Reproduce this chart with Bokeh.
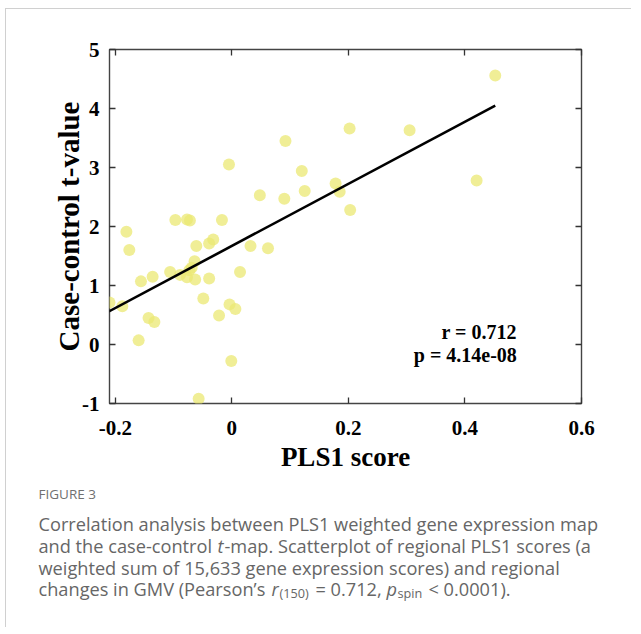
from bokeh.plotting import figure
from bokeh.models import (ColumnDataSource, LinearAxis, FixedTicker, Label, Range1d)
from bokeh.layouts import column
from bokeh.embed import file_html
from bokeh.resources import INLINE

# ---------------- data ----------------
pls1_score = [0.452, 0.202, 0.305, 0.092, -0.005, 0.120, 0.048, 0.090, 0.178,
              0.185, 0.125, 0.203, 0.420, -0.097, -0.077, -0.072, -0.017,
              -0.181, -0.032, -0.039, -0.061, 0.032, 0.062, -0.176, -0.064,
              -0.069, -0.073, -0.106, -0.089, -0.077, -0.063, -0.039, -0.136,
              -0.156, 0.014, -0.210, -0.188, -0.049, -0.004, 0.006, -0.022,
              -0.143, -0.133, -0.160, -0.001, -0.057]
t_value = [4.56, 3.66, 3.63, 3.45, 3.05, 2.94, 2.53, 2.47, 2.73,
           2.59, 2.60, 2.28, 2.78, 2.11, 2.12, 2.10, 2.11,
           1.91, 1.78, 1.71, 1.67, 1.67, 1.63, 1.60, 1.41,
           1.30, 1.26, 1.23, 1.18, 1.14, 1.10, 1.12, 1.15,
           1.07, 1.23, 0.71, 0.65, 0.78, 0.68, 0.60, 0.49,
           0.45, 0.38, 0.07, -0.28, -0.92]
fit_x = [-0.211, 0.452]
fit_y = [0.56, 4.05]

x_ticks = [-0.2, 0, 0.2, 0.4, 0.6]
x_tick_labels = ["-0.2", "0", "0.2", "0.4", "0.6"]
y_ticks = [-1, 0, 1, 2, 3, 4, 5]
y_tick_labels = ["-1", "0", "1", "2", "3", "4", "5"]

stat_lines = ["r = 0.712", "p = 4.14e-08"]
x_title = "PLS1 score"
y_title = "Case-control t-value"
fig_label = "FIGURE 3"
caption_1 = "Correlation analysis between PLS1 weighted gene expression map"
caption_2 = ["and the case-control", "t", "-map. Scatterplot of regional PLS1 scores (a"]
caption_3 = "weighted sum of 15,633 gene expression scores) and regional"
caption_4 = ["changes in GMV (Pearson\u2019s", "r", "(150)", "= 0.712,", "p", "spin", "< 0.0001)."]

# ---------------- main figure ----------------
W = 625
PH, FL, FT, FR, FB = 470, 103, 40, 50, 76

p = figure(width=W, height=PH, output_backend="svg", toolbar_location=None,
           x_range=Range1d(-0.21, 0.6), y_range=Range1d(-1, 5),
           min_border_left=FL, min_border_top=FT, min_border_right=FR,
           min_border_bottom=FB, x_axis_type=None, y_axis_type=None)
p.grid.visible = False
p.outline_line_color = "#444444"
p.outline_line_width = 1.4
p.border_fill_color = "white"

serif = "Liberation Serif"

def make_axis(ticks, labels, show_labels, title=None, title_size="27px"):
    ax = LinearAxis(ticker=FixedTicker(ticks=ticks),
                    major_label_overrides={t: (l if show_labels else "")
                                           for t, l in zip(ticks, labels)})
    ax.axis_line_color = None
    ax.major_tick_in = 6
    ax.major_tick_out = 0
    ax.major_tick_line_color = "#333333"
    ax.major_tick_line_width = 1.3
    ax.minor_tick_line_color = None
    ax.major_label_text_font = serif
    ax.major_label_text_font_style = "bold"
    ax.major_label_text_font_size = "21px"
    ax.major_label_text_color = "black"
    if title:
        ax.axis_label = title
        ax.axis_label_text_font = serif
        ax.axis_label_text_font_style = "bold"
        ax.axis_label_text_font_size = title_size
        ax.axis_label_text_color = "black"
    return ax

xb = make_axis(x_ticks, x_tick_labels, True, x_title, "27px")
xb.major_label_standoff = 17
xb.axis_label_standoff = 4
yl = make_axis(y_ticks, y_tick_labels, True, y_title, "29px")
yl.major_label_standoff = 10
yl.axis_label_standoff = -6
xt = make_axis(x_ticks, x_tick_labels, False)
xt.major_label_standoff = 0
yr = make_axis(y_ticks, y_tick_labels, False)
yr.major_label_standoff = 0
p.add_layout(xb, "below")
p.add_layout(yl, "left")
p.add_layout(xt, "above")
p.add_layout(yr, "right")

src = ColumnDataSource(dict(x=pls1_score, y=t_value))
p.scatter("x", "y", source=src, size=12, fill_color="#EBE873",
          fill_alpha=0.75, line_color=None)
p.line(fit_x, fit_y, line_color="black", line_width=2.6)

for i, s in enumerate(stat_lines):
    p.add_layout(Label(x=0.489, y=[0.22, -0.17][i], text=s, text_align="right",
                       text_baseline="middle", text_font=serif,
                       text_font_style="bold", text_font_size="20px",
                       text_color="black"))

# ---------------- caption figure (page coordinates) ----------------
CH = 148
c = figure(width=W, height=CH, output_backend="svg", toolbar_location=None,
           x_range=Range1d(7, 7 + W), y_range=Range1d(480 + CH, 480),
           min_border=0, x_axis_type=None, y_axis_type=None)
c.grid.visible = False
c.outline_line_color = None
for fig in (p, c):
    if hasattr(fig, "frame_align"):
        fig.frame_align = False

def cap(text, X, Y, size="18.2px", style="normal", color="#666666"):
    c.add_layout(Label(x=X, y=Y, text=text, text_align="left",
                       text_baseline="middle", text_font="Open Sans",
                       text_font_size=size, text_font_style=style,
                       text_color=color))

cap(fig_label, 39, 494, size="13.5px", color="#707070")
cap(caption_1, 39, 524)
cap(caption_2[0], 39, 546)
cap(caption_2[1], 218, 546, style="italic")
cap(caption_2[2], 225, 546)
cap(caption_3, 39, 568)
cap(caption_4[0], 39, 589)
cap(caption_4[1], 272, 589, style="italic")
cap(caption_4[2], 280, 593, size="12.7px")
cap(caption_4[3], 316, 589)
cap(caption_4[4], 387, 589, style="italic")
cap(caption_4[5], 398, 593, size="12.7px")
cap(caption_4[6], 429, 589)

layout = column(p, c, spacing=0, margin=(8, 0, 0, 5),
                styles={"border-left": "1px solid #d0d0d0",
                        "border-top": "1px solid #d0d0d0"})

open("out.html", "w").write(file_html(layout, INLINE))
